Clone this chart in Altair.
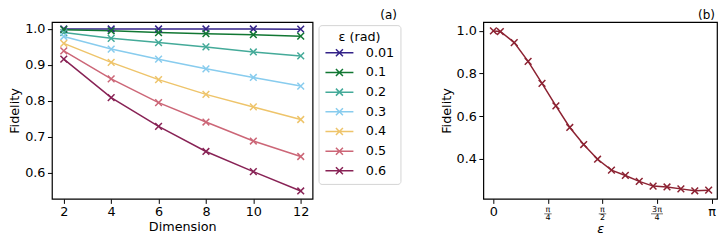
import altair as alt
import pandas as pd

# ---------------- data: panel (a) ----------------
dims = [2, 4, 6, 8, 10, 12]
eps_labels = ["0.01", "0.1", "0.2", "0.3", "0.4", "0.5", "0.6"]
fid_001 = [1.000, 1.000, 1.000, 1.000, 1.000, 0.9995]
fid_01 = [0.998, 0.995, 0.990, 0.987, 0.984, 0.980]
fid_02 = [0.990, 0.974, 0.962, 0.950, 0.936, 0.925]
fid_03 = [0.979, 0.944, 0.916, 0.889, 0.865, 0.841]
fid_04 = [0.960, 0.907, 0.859, 0.818, 0.783, 0.748]
fid_05 = [0.939, 0.861, 0.795, 0.741, 0.688, 0.645]
fid_06 = [0.916, 0.809, 0.729, 0.659, 0.603, 0.549]
series_a = [fid_001, fid_01, fid_02, fid_03, fid_04, fid_05, fid_06]
colors_a = ["#332288", "#117733", "#44AA99", "#88CCEE", "#EEC46A", "#CC6677", "#882255"]

# ---------------- data: panel (b) ----------------
eps_b = [0.0, 0.1, 0.3, 0.5, 0.7, 0.9, 1.1, 1.3, 1.5, 1.7, 1.9, 2.1, 2.3, 2.5, 2.7, 2.9, 3.1]
fid_b = [1.000, 0.997, 0.945, 0.857, 0.754, 0.648, 0.547, 0.467, 0.398, 0.347,
         0.322, 0.294, 0.272, 0.268, 0.259, 0.250, 0.253]
color_b = "#8C2232"

PI = 3.141592653589793
tick_b = [0, PI / 4, PI / 2, 3 * PI / 4, PI]
frac_pos = [PI / 4, PI / 2, 3 * PI / 4]
frac_num = ["π", "π", "3π"]
frac_den = ["4", "2", "4"]

X_PATH = "M-1,-1L1,1M-1,1L1,-1"
LEG_PATH = "M-4,0L4,0M-1,-1L1,1M-1,1L1,-1"
FONT = "DejaVu Sans"
FS = 12.8

rows = []
for lab, vals in zip(eps_labels, series_a):
    for d, v in zip(dims, vals):
        rows.append({"Dimension": d, "Fidelity": v, "eps": lab})
df_a = pd.DataFrame(rows)
df_b = pd.DataFrame({"eps": eps_b, "Fidelity": fid_b})
df_frac = pd.DataFrame({"eps": frac_pos, "num": frac_num, "den": frac_den})

WA, WB, H = 261, 234, 177

xa = alt.X("Dimension:Q", scale=alt.Scale(domain=[1.5, 12.5], nice=False, zero=False),
           axis=alt.Axis(values=dims, title="Dimension"))
ya = alt.Y("Fidelity:Q", scale=alt.Scale(domain=[0.527, 1.019], nice=False, zero=False),
           axis=alt.Axis(values=[0.6, 0.7, 0.8, 0.9, 1.0], format=".1f", title="Fidelity"))
legend = alt.Legend(
    title="ε (rad)", orient="none", legendX=267, legendY=3,
    padding=6, fillColor="white", strokeColor="#d4d4d4", cornerRadius=3,
    titleFontSize=FS, titleFontWeight="normal", titleAnchor="middle", titlePadding=2.5,
    titleColor="black", labelColor="black",
    labelFontSize=FS, rowPadding=4.7, symbolType=LEG_PATH, symbolSize=49,
    symbolStrokeWidth=1.5, symbolFillColor="transparent", symbolOffset=8.5, labelOffset=20,
)
color_a = alt.Color("eps:N", scale=alt.Scale(domain=eps_labels, range=colors_a), legend=legend,
                    sort=eps_labels)

lines_a = alt.Chart(df_a).mark_line(strokeWidth=1.5).encode(x=xa, y=ya, color=color_a)
pts_a = alt.Chart(df_a).mark_point(shape=X_PATH, size=45, filled=False, strokeWidth=1.5,
                                   opacity=1).encode(x=xa, y=ya, color=color_a)
panel_a = alt.layer(lines_a, pts_a).properties(
    width=WA, height=H,
    title=alt.TitleParams("(a)", anchor="end", fontSize=12, fontWeight="normal", offset=0,
                          color="black", dx=-4),
)

xb = alt.X("eps:Q", scale=alt.Scale(domain=[-0.145, 3.22], nice=False, zero=False),
           axis=alt.Axis(values=tick_b, title="ε", titleFontStyle="italic", titlePadding=4.8,
                         labelExpr="datum.value < 0.1 ? '0' : (datum.value > 3 ? 'π' : '')"))
yb = alt.Y("Fidelity:Q", scale=alt.Scale(domain=[0.212, 1.041], nice=False, zero=False),
           axis=alt.Axis(values=[0.4, 0.6, 0.8, 1.0], format=".1f", title="Fidelity"))
line_b = alt.Chart(df_b).mark_line(strokeWidth=1.5, color=color_b).encode(x=xb, y=yb)
pts_b = alt.Chart(df_b).mark_point(shape=X_PATH, size=45, filled=False, strokeWidth=1.5,
                                   color=color_b, opacity=1).encode(x=xb, y=yb)
num_t = alt.Chart(df_frac).mark_text(fontSize=8, font=FONT, color="black").encode(
    x=xb, y=alt.value(H + 11), text="num:N")
den_t = alt.Chart(df_frac).mark_text(fontSize=8, font=FONT, color="black").encode(
    x=xb, y=alt.value(H + 19), text="den:N")
bar_t = alt.Chart(df_frac).transform_calculate(blen="length(datum.num) * 4.5 + 3").mark_tick(
    orient="horizontal", thickness=0.8, color="black").encode(
    x=xb, y=alt.value(H + 15), size=alt.Size("blen:Q", scale=None, legend=None))
panel_b = alt.layer(line_b, pts_b, num_t, den_t, bar_t).properties(
    width=WB, height=H,
    title=alt.TitleParams("(b)", anchor="end", fontSize=12, fontWeight="normal", offset=0,
                          color="black", dx=-2),
)

chart = alt.hconcat(panel_a, panel_b, spacing=171, bounds="flush").resolve_legend(
    color="independent").properties(padding=0).configure(font=FONT).configure_axis(
    labelFontSize=FS, titleFontSize=FS, titleFontWeight="normal", labelColor="black",
    titleColor="black", tickColor="black", tickSize=4.5, tickWidth=1, labelPadding=2.5,
    titlePadding=3, domain=False, grid=False,
).configure_axisX(labelPadding=2, titlePadding=2.5).configure_view(stroke="black", strokeWidth=1.2)

chart.save("out.html", embed_options={"renderer": "svg", "actions": False})
